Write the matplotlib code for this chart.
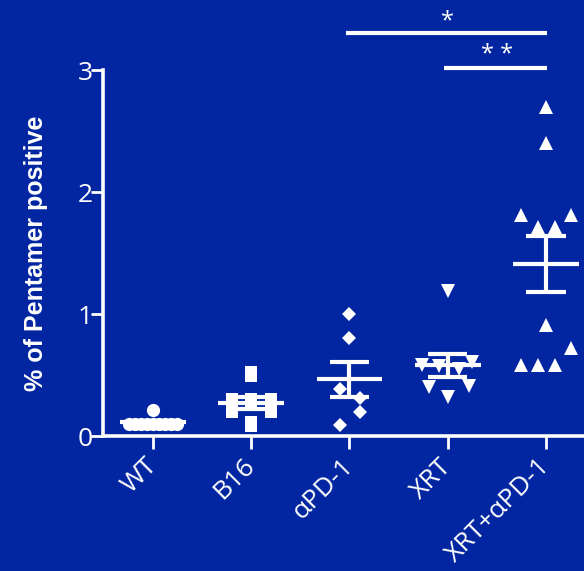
import numpy as np
import matplotlib
matplotlib.use("Agg")
import matplotlib.pyplot as plt
from matplotlib.path import Path

# ---- data ----
categories = ["WT", "B16", "αPD-1", "XRT", "XRT+αPD-1"]
wt_vals = [0.21, 0.10, 0.10, 0.10, 0.10, 0.10, 0.10, 0.10, 0.10, 0.10]
b16_vals = [0.51, 0.29, 0.29, 0.29, 0.21, 0.21, 0.10]
apd1_vals = [1.00, 0.80, 0.385, 0.31, 0.20, 0.09]
xrt_vals = [1.19, 0.58, 0.57, 0.55, 0.61, 0.40, 0.32, 0.41]
combo_vals = [2.70, 2.40, 1.81, 1.81, 1.71, 1.71, 0.91, 0.72, 0.58, 0.58, 0.58]
yticks = [0, 1, 2, 3]
sig_pairs = [(2, 4, "*"), (3, 4, "* *")]

# ---- layout (scatter jitter slots, in category units) ----
wt_off = [0.0, -0.24, -0.18, -0.12, -0.06, 0.0, 0.06, 0.12, 0.18, 0.24]
b16_off = [0.0, -0.2, 0.0, 0.2, -0.2, 0.2, 0.0]
apd1_off = [0.0, 0.0, -0.1, 0.11, 0.11, -0.1]
xrt_off = [0.0, -0.26, -0.09, 0.11, 0.25, -0.19, 0.0, 0.22]
combo_off = [0.0, 0.0, -0.255, 0.255, -0.085, 0.09, 0.0, 0.255, -0.255, -0.085, 0.09]

BG = "#0226A1"
FG = "white"

fig = plt.figure(figsize=(5.84, 5.71), dpi=100, facecolor=BG)
ax = fig.add_axes([103 / 584, (571 - 436) / 571, 481 / 584, 366 / 571])
ax.set_facecolor(BG)

rect = Path([(-0.75, -1), (0.75, -1), (0.75, 1), (-0.75, 1), (-0.75, -1)],
            [Path.MOVETO, Path.LINETO, Path.LINETO, Path.LINETO, Path.CLOSEPOLY])

groups = [
    (wt_vals, wt_off, "o", 9.5),
    (b16_vals, b16_off, rect, 11.5),
    (apd1_vals, apd1_off, "D", 7.5),
    (xrt_vals, xrt_off, "v", 10),
    (combo_vals, combo_off, "^", 10),
]

for i, (vals, offs, mk, ms) in enumerate(groups):
    v = np.asarray(vals, dtype=float)
    x = i + np.asarray(offs)
    ax.plot(x, v, linestyle="none", marker=mk, markersize=ms,
            color=FG, markeredgewidth=0, clip_on=False, zorder=3)
    m = v.mean()
    sem = v.std(ddof=1) / np.sqrt(len(v))
    lw = 3.0
    ax.plot([i - 0.335, i + 0.335], [m, m], color=FG, lw=lw, solid_capstyle="butt", zorder=4, clip_on=False)
    ax.plot([i, i], [m - sem, m + sem], color=FG, lw=lw, solid_capstyle="butt", zorder=4, clip_on=False)
    for yy in (m - sem, m + sem):
        ax.plot([i - 0.2, i + 0.2], [yy, yy], color=FG, lw=lw, solid_capstyle="butt", zorder=4, clip_on=False)

# significance brackets
bracket_y = [3.30, 3.02]
for (a, b, txt), by in zip(sig_pairs, bracket_y):
    ax.plot([a - 0.04, b + 0.01], [by, by], color=FG, lw=3.0, solid_capstyle="butt", clip_on=False)
    ax.text((a + b) / 2, by + 0.10, txt, color=FG, ha="center", va="center",
            fontsize=17, family=["Open Sans", "DejaVu Sans"])

ax.set_xlim(-0.509, 4.387)
ax.set_ylim(0, 3)
ax.set_yticks(yticks)
ax.set_yticklabels([str(t) for t in yticks])
ax.set_xticks(range(len(categories)))
ax.set_xticklabels(categories, rotation=45, ha="right", va="center", rotation_mode="anchor")

for s in ["top", "right"]:
    ax.spines[s].set_visible(False)
for s in ["left", "bottom"]:
    ax.spines[s].set_color(FG)
    ax.spines[s].set_linewidth(2.6)

ax.tick_params(axis="both", colors=FG, width=2.0, length=9, labelsize=19)
ax.tick_params(axis="y", pad=-1.5)
ax.tick_params(axis="x", pad=10)
for lab in ax.get_xticklabels() + ax.get_yticklabels():
    lab.set_family(["Open Sans", "DejaVu Sans"])
    lab.set_color(FG)

ax.set_ylabel("% of Pentamer positive", color=FG, fontsize=18, fontweight="bold",
              family=["Liberation Sans", "DejaVu Sans"])
ax.yaxis.set_label_coords(-0.115, 0.5)

fig.savefig("out.png", dpi=100, facecolor=BG)
